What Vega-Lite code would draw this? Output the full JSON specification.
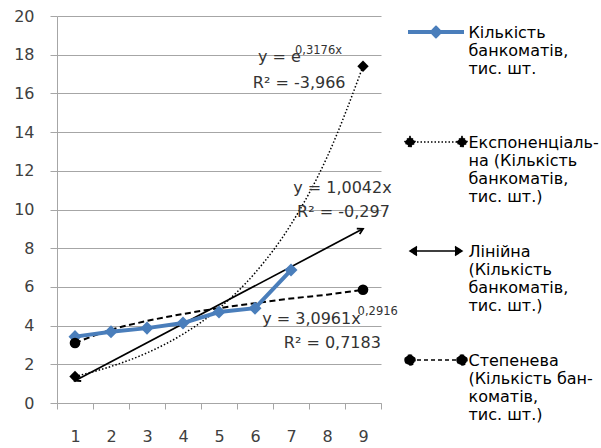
{
  "$schema": "https://vega.github.io/schema/vega-lite/v6.json",
  "width": 324,
  "height": 387,
  "autosize": {"type": "none"},
  "padding": {"left": 57, "top": 16, "right": 220, "bottom": 45},
  "background": "white",
  "config": {
    "view": {"stroke": null},
    "font": "DejaVu Sans",
    "axis": {"labelFont": "DejaVu Sans", "labelFontSize": 16, "labelColor": "#404040", "title": null, "domainColor": "#a6a6a6", "tickColor": "#a6a6a6", "gridColor": "#a6a6a6", "labelOverlap": false, "labelFlush": false}
  },
  "datasets": {
    "main": [
      {"n": 1, "v": 3.43, "k": "bank"}, {"n": 2, "v": 3.68, "k": "bank"}, {"n": 3, "v": 3.87, "k": "bank"}, {"n": 4, "v": 4.13, "k": "bank"}, {"n": 5, "v": 4.7, "k": "bank"}, {"n": 6, "v": 4.9, "k": "bank"}, {"n": 7, "v": 6.87, "k": "bank"},
      {"n": 1, "v": 1.37, "k": "exp"}, {"n": 2, "v": 1.89, "k": "exp"}, {"n": 3, "v": 2.59, "k": "exp"}, {"n": 4, "v": 3.56, "k": "exp"}, {"n": 5, "v": 4.89, "k": "exp"}, {"n": 6, "v": 6.72, "k": "exp"}, {"n": 7, "v": 9.23, "k": "exp"}, {"n": 8, "v": 12.7, "k": "exp"}, {"n": 9, "v": 17.4, "k": "exp"},
      {"n": 1, "v": 1.15, "k": "lin"}, {"n": 9, "v": 9.0, "k": "lin"},
      {"n": 1, "v": 3.1, "k": "pow"}, {"n": 2, "v": 3.78, "k": "pow"}, {"n": 3, "v": 4.24, "k": "pow"}, {"n": 4, "v": 4.6, "k": "pow"}, {"n": 5, "v": 4.9, "k": "pow"}, {"n": 6, "v": 5.16, "k": "pow"}, {"n": 7, "v": 5.4, "k": "pow"}, {"n": 8, "v": 5.6, "k": "pow"}, {"n": 9, "v": 5.85, "k": "pow"}
    ],
    "notes": [
      {"n": 6.08, "v": 17.9, "t": "y = e", "kind": "main"},
      {"n": 7.11, "v": 18.2, "t": "0,3176x", "kind": "sup"},
      {"n": 5.94, "v": 16.54, "t": "R² = -3,966", "kind": "main"},
      {"n": 7.06, "v": 11.11, "t": "y = 1,0042x", "kind": "main"},
      {"n": 7.17, "v": 9.87, "t": "R² = -0,297", "kind": "main"},
      {"n": 6.2, "v": 4.34, "t": "y = 3,0961x", "kind": "main"},
      {"n": 8.85, "v": 4.68, "t": "0,2916", "kind": "sup"},
      {"n": 6.8, "v": 3.1, "t": "R² = 0,7183", "kind": "main"}
    ]
  },
  "data": {"name": "main"},
  "encoding": {
    "x": {
      "field": "n", "type": "quantitative",
      "scale": {"domain": [0.5, 9.5], "nice": false, "zero": false},
      "axis": {"values": [0.5, 1.5, 2.5, 3.5, 4.5, 5.5, 6.5, 7.5, 8.5, 9.5], "labelExpr": "datum.value < 9 ? format(datum.value + 0.5, 'd') : ''", "grid": false, "tickSize": 6, "labelPadding": 19, "labelAlign": "center", "labelOffset": 18}
    },
    "y": {
      "field": "v", "type": "quantitative",
      "scale": {"domain": [0, 20], "nice": false},
      "axis": {"values": [0, 2, 4, 6, 8, 10, 12, 14, 16, 18, 20], "grid": true, "tickSize": 7, "labelPadding": 16}
    }
  },
  "layer": [
    {
      "transform": [{"filter": "datum.k === 'exp'"}],
      "mark": {"type": "line", "color": "#000", "strokeWidth": 1.5, "strokeDash": [1.5, 2], "interpolate": "monotone"}
    },
    {
      "transform": [{"filter": "datum.k === 'pow'"}],
      "mark": {"type": "line", "color": "#000", "strokeWidth": 2, "strokeDash": [6, 3.5], "interpolate": "monotone"}
    },
    {
      "transform": [{"filter": "datum.k === 'lin'"}],
      "mark": {"type": "line", "color": "#000", "strokeWidth": 1.7}
    },
    {
      "transform": [{"filter": "datum.k === 'bank'"}],
      "mark": {"type": "line", "color": "#4a7ebb", "strokeWidth": 4}
    },
    {
      "transform": [{"filter": "datum.k === 'bank'"}],
      "mark": {"type": "point", "shape": "diamond", "filled": true, "color": "#4a7ebb", "opacity": 1, "size": 170}
    },
    {
      "transform": [{"filter": "datum.k === 'exp' && (datum.n === 1 || datum.n === 9)"}],
      "mark": {"type": "point", "shape": "diamond", "filled": true, "color": "#000", "opacity": 1, "size": 130}
    },
    {
      "transform": [{"filter": "datum.k === 'pow' && (datum.n === 1 || datum.n === 9)"}],
      "mark": {"type": "point", "shape": "circle", "filled": true, "color": "#000", "opacity": 1, "size": 113}
    },
    {
      "transform": [{"filter": "datum.k === 'lin' && datum.n === 9"}],
      "mark": {"type": "point", "shape": "M-1.2,-0.7L0,0L-1.2,0.7", "filled": false, "color": "#000", "opacity": 1, "strokeWidth": 1.8, "size": 80, "angle": -27.7}
    },
    {
      "transform": [{"filter": "datum.k === 'lin' && datum.n === 1"}],
      "mark": {"type": "point", "shape": "M-1.2,-0.7L0,0L-1.2,0.7", "filled": false, "color": "#000", "opacity": 1, "strokeWidth": 1.8, "size": 80, "angle": 152.3}
    },
    {
      "data": {"name": "notes"},
      "transform": [{"filter": "datum.kind === 'main'"}],
      "mark": {"type": "text", "align": "left", "baseline": "middle", "font": "DejaVu Sans", "fontSize": 16, "color": "#333"},
      "encoding": {"text": {"field": "t"}}
    },
    {
      "data": {"name": "notes"},
      "transform": [{"filter": "datum.kind === 'sup'"}],
      "mark": {"type": "text", "align": "left", "baseline": "middle", "font": "DejaVu Sans", "fontSize": 11.5, "color": "#333"},
      "encoding": {"text": {"field": "t"}}
    },
    {
      "data": {"values": []},
      "mark": {"type": "point", "filled": true, "opacity": 1},
      "encoding": {
        "color": {
          "field": "k", "type": "nominal",
          "scale": {"domain": ["bank", "exp", "lin", "pow"], "range": ["#4a7ebb", "#000000", "#000000", "#000000"]},
          "legend": {
            "orient": "none", "legendX": 371, "legendY": 8, "title": null, "padding": 0,
            "symbolSize": 100, "symbolStrokeWidth": 1.5, "symbolOpacity": 1, "labelOffset": 24.5,
            "labelFont": "DejaVu Sans", "labelFontSize": 16, "labelLineHeight": 18.5, "labelColor": "#000",
            "labelBaseline": "top", "labelLimit": 0, "rowPadding": 38,
            "labelExpr": "datum.value === 'bank' ? ['Кількість', 'банкоматів,', 'тис. шт.', ' '] : datum.value === 'exp' ? ['Експоненціаль-', 'на (Кількість', 'банкоматів,', 'тис. шт.)'] : datum.value === 'lin' ? ['Лінійна', '(Кількість', 'банкоматів,', 'тис. шт.)'] : ['Степенева', '(Кількість бан-', 'коматів,', 'тис. шт.)']",
            "encode": {
              "symbols": {"update": {
                "strokeDash": {"signal": "datum.value === 'exp' ? [1.5, 2] : datum.value === 'pow' ? [4, 3] : [1, 0]"},
                "strokeWidth": {"signal": "datum.value === 'bank' ? 4 : 1.5"},
                "fill": {"signal": "datum.value === 'lin' ? 'transparent' : datum.value === 'bank' ? '#4a7ebb' : '#000000'"},
                "stroke": {"signal": "datum.value === 'bank' ? '#4a7ebb' : '#000000'"}
              }},
              "labels": {"update": {"dy": {"value": -7}}}
            }
          }
        },
        "shape": {
          "field": "k", "type": "nominal",
          "scale": {"domain": ["bank", "exp", "lin", "pow"], "range": [
            "M-5.6,0L5.6,0M-0.8,0L0,-0.8L0.8,0L0,0.8Z",
            "M-5.2,0L5.2,0M-6.3,0L-5.2,-1.1L-4.1,0L-5.2,1.1ZM4.1,0L5.2,-1.1L6.3,0L5.2,1.1Z",
            "M-5.2,0L5.2,0M-3.8,-0.9L-5.2,0L-3.8,0.9M3.8,-0.9L5.2,0L3.8,0.9",
            "M-5.2,0L5.2,0M-6.2,0A1,1,0,1,0,-4.2,0A1,1,0,1,0,-6.2,0ZM4.2,0A1,1,0,1,0,6.2,0A1,1,0,1,0,4.2,0Z"
          ]},
          "legend": {
            "orient": "none", "legendX": 371, "legendY": 8, "title": null, "padding": 0,
            "symbolSize": 100, "symbolStrokeWidth": 1.5, "symbolOpacity": 1, "labelOffset": 24.5,
            "labelFont": "DejaVu Sans", "labelFontSize": 16, "labelLineHeight": 18.5, "labelColor": "#000",
            "labelBaseline": "top", "labelLimit": 0, "rowPadding": 38,
            "labelExpr": "datum.value === 'bank' ? ['Кількість', 'банкоматів,', 'тис. шт.', ' '] : datum.value === 'exp' ? ['Експоненціаль-', 'на (Кількість', 'банкоматів,', 'тис. шт.)'] : datum.value === 'lin' ? ['Лінійна', '(Кількість', 'банкоматів,', 'тис. шт.)'] : ['Степенева', '(Кількість бан-', 'коматів,', 'тис. шт.)']",
            "encode": {
              "symbols": {"update": {
                "strokeDash": {"signal": "datum.value === 'exp' ? [1.5, 2] : datum.value === 'pow' ? [4, 3] : [1, 0]"},
                "strokeWidth": {"signal": "datum.value === 'bank' ? 4 : 1.5"},
                "fill": {"signal": "datum.value === 'lin' ? 'transparent' : datum.value === 'bank' ? '#4a7ebb' : '#000000'"},
                "stroke": {"signal": "datum.value === 'bank' ? '#4a7ebb' : '#000000'"}
              }},
              "labels": {"update": {"dy": {"value": -7}}}
            }
          }
        }
      }
    }
  ]
}
